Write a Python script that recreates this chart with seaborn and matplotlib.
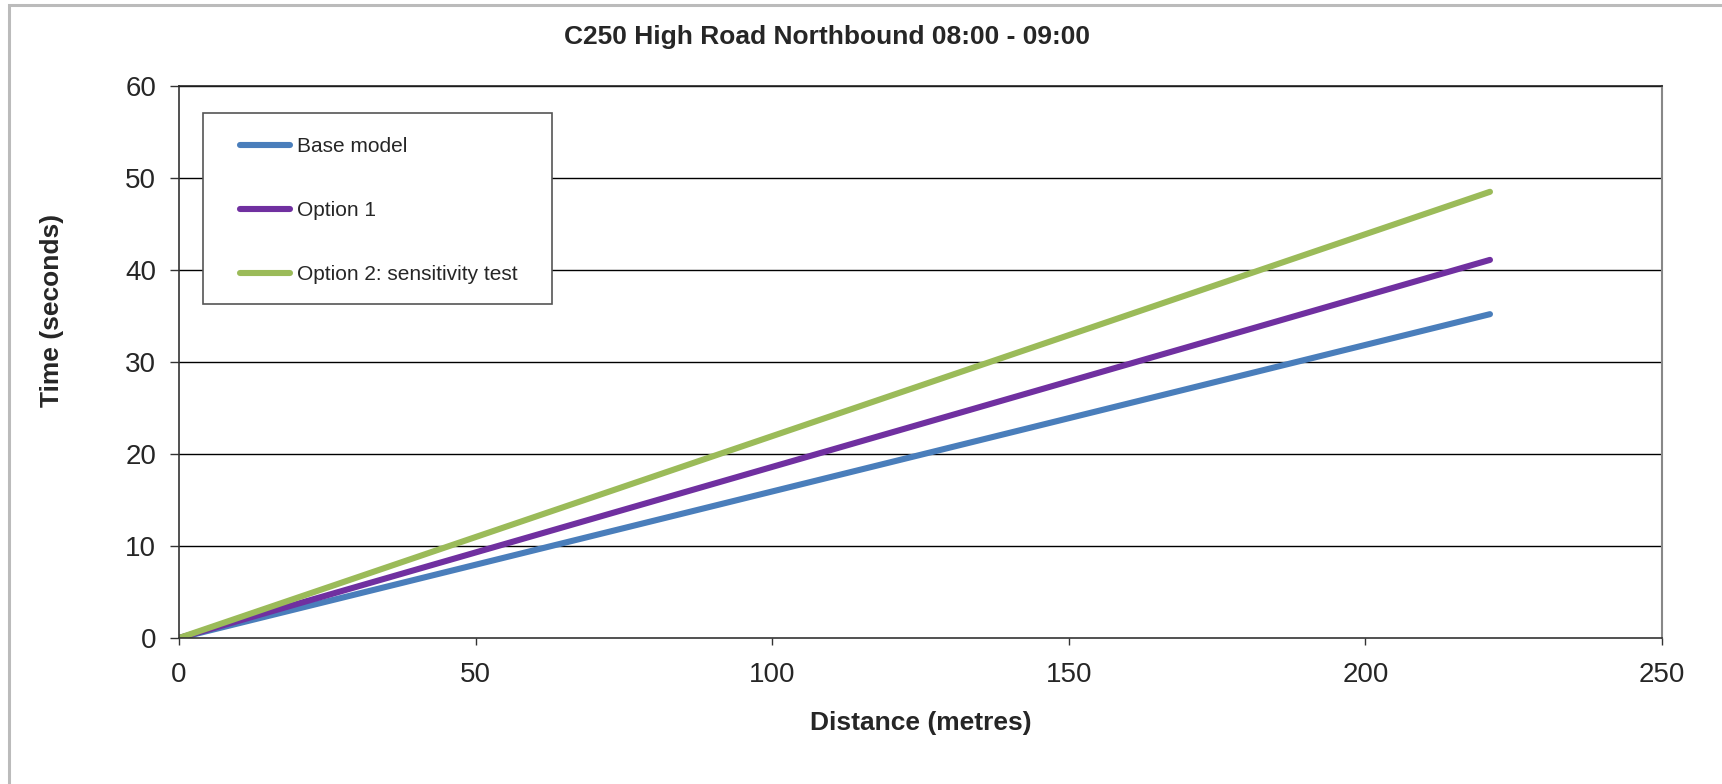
import matplotlib
matplotlib.use("Agg")
import matplotlib.pyplot as plt
import seaborn as sns
import pandas as pd
from matplotlib.patches import Rectangle

# Data
distance = [0, 221]
base_model = [0, 35.2]
option_1 = [0, 41.1]
option_2 = [0, 48.5]
series_names = ["Base model", "Option 1", "Option 2: sensitivity test"]
colors = ["#4A7EBB", "#7030A0", "#9BBB59"]
x_ticks = [0, 50, 100, 150, 200, 250]
y_ticks = [0, 10, 20, 30, 40, 50, 60]

rows = []
for name, vals in zip(series_names, [base_model, option_1, option_2]):
    for d, t in zip(distance, vals):
        rows.append({"Distance": d, "Time": t, "Series": name})
df = pd.DataFrame(rows)

sns.set_theme(style="white")
plt.rcParams["font.family"] = ["Liberation Sans", "DejaVu Sans"]

fig = plt.figure(figsize=(17.22, 7.84), dpi=100)
ax = fig.add_axes([179/1722, 1-638/784, (1662-179)/1722, (638-86)/784])

# outer chart border
fig.patches.append(Rectangle((8.5/1722, -0.1), 2.0, 1.1 - 5.5/784, transform=fig.transFigure,
                             fill=False, edgecolor="#BBBBBB", linewidth=2.2, zorder=0))

sns.lineplot(data=df, x="Distance", y="Time", hue="Series", palette=colors,
             linewidth=4.4, ax=ax, legend=True, solid_capstyle="round")

ax.set_xlim(0, 250)
ax.set_ylim(0, 60)
ax.set_xticks(x_ticks)
ax.set_yticks(y_ticks)
ax.set_xticklabels([str(v) for v in x_ticks], fontsize=20)
ax.set_yticklabels([str(v) for v in y_ticks], fontsize=20)
for y in y_ticks[1:]:
    ax.axhline(y, color="black", linewidth=1.0, zorder=1)

ax.tick_params(axis="x", direction="out", length=5, width=1, color="#333333", pad=12, bottom=True)
ax.tick_params(axis="y", direction="out", length=6.5, width=1, color="#333333", pad=10, left=True)

for s in ["left", "bottom"]:
    ax.spines[s].set_color("#333333")
    ax.spines[s].set_linewidth(1.2)
ax.spines["right"].set_color("#888888")
ax.spines["right"].set_linewidth(1.5)
ax.spines["top"].set_color("#222222")
ax.spines["top"].set_linewidth(1.2)

ax.set_xlabel("Distance (metres)", fontsize=19, fontweight="bold")
ax.set_ylabel("Time (seconds)", fontsize=19, fontweight="bold")
ax.xaxis.set_label_coords(0.5, -0.133)
ax.yaxis.set_label_coords(-0.0775, 0.594)
fig.suptitle("C250 High Road Northbound 08:00 - 09:00", fontsize=19, fontweight="bold",
             x=0.48, y=1-37/784, va="center")

# legend frame
ax.add_patch(Rectangle((24/1483, (638-304)/552), (552-203)/1483, (304-113)/552,
                       transform=ax.transAxes, fill=True, facecolor="white",
                       edgecolor="#555555", linewidth=1.2, zorder=5))
leg = ax.legend(loc="upper left", bbox_to_anchor=((240-179)/1483, (638-137)/552), borderaxespad=0,
                fontsize=15, frameon=False, labelspacing=2.17, handlelength=2.4,
                handletextpad=0.35, borderpad=0)
leg.set_zorder(6)
for line in leg.get_lines():
    line.set_linewidth(4.4)
    line.set_solid_capstyle("round")

fig.savefig("out.png", dpi=100)
